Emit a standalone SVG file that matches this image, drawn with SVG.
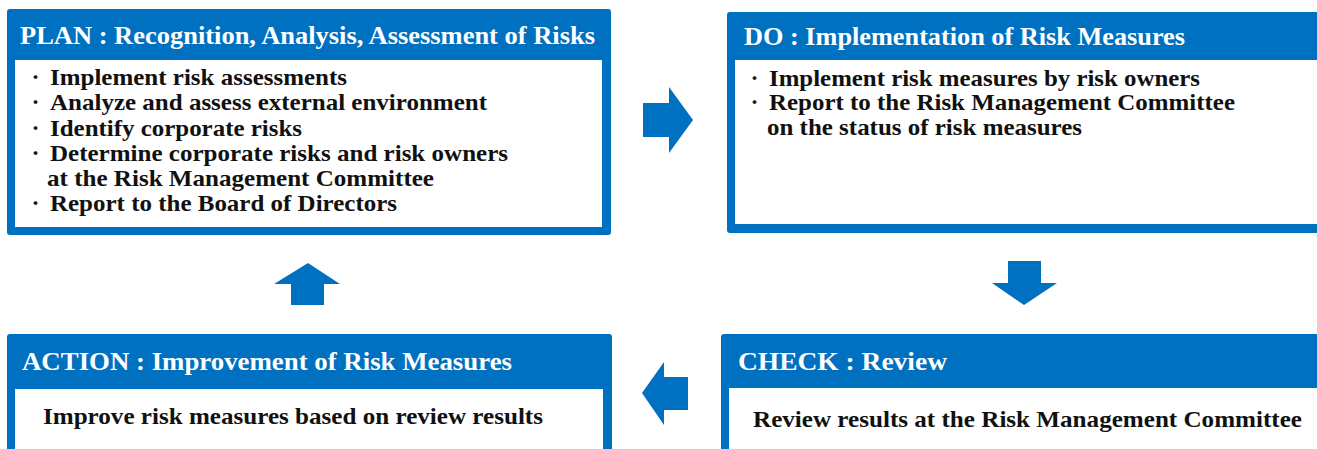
<svg xmlns="http://www.w3.org/2000/svg" width="1317" height="449" viewBox="0 0 1317 449">
<style>
.frame{fill:#0070C0}
.body{fill:#ffffff}
.hd{font-family:"Liberation Serif","Noto Sans CJK JP",serif;font-weight:bold;font-size:25px;fill:#ffffff}
.tx{font-family:"Liberation Serif","Noto Sans CJK JP",serif;font-weight:bold;font-size:23px;fill:#111111}
.bl{font-family:"Noto Sans CJK JP",sans-serif;font-weight:bold;font-size:15px;fill:#111111}
.arrow{fill:#0070C0}
</style>
<rect width="1317" height="449" fill="#ffffff"/>
<g id="plan">
<rect class="frame" x="7" y="9" width="604" height="226" rx="3"/>
<rect class="body" x="15" y="60" width="587" height="167"/>
<text class="hd" x="20" y="44" textLength="575" lengthAdjust="spacingAndGlyphs">PLAN : Recognition, Analysis, Assessment of Risks</text>
<text class="bl" x="28" y="83">・</text>
<text class="tx" x="50" y="85" textLength="297" lengthAdjust="spacingAndGlyphs">Implement risk assessments</text>
<text class="bl" x="28" y="108">・</text>
<text class="tx" x="50" y="110" textLength="437" lengthAdjust="spacingAndGlyphs">Analyze and assess external environment</text>
<text class="bl" x="28" y="134">・</text>
<text class="tx" x="50" y="136" textLength="252" lengthAdjust="spacingAndGlyphs">Identify corporate risks</text>
<text class="bl" x="28" y="159">・</text>
<text class="tx" x="50" y="161" textLength="458" lengthAdjust="spacingAndGlyphs">Determine corporate risks and risk owners</text>
<text class="tx" x="47" y="186" textLength="387" lengthAdjust="spacingAndGlyphs">at the Risk Management Committee</text>
<text class="bl" x="28" y="209">・</text>
<text class="tx" x="50" y="211" textLength="347" lengthAdjust="spacingAndGlyphs">Report to the Board of Directors</text>
</g>
<g id="do">
<rect class="frame" x="727" y="12" width="600" height="221" rx="3"/>
<rect class="body" x="735" y="60" width="600" height="164"/>
<text class="hd" x="744" y="45" textLength="441" lengthAdjust="spacingAndGlyphs">DO : Implementation of Risk Measures</text>
<text class="bl" x="747" y="84">・</text>
<text class="tx" x="769" y="86" textLength="431" lengthAdjust="spacingAndGlyphs">Implement risk measures by risk owners</text>
<text class="bl" x="747" y="108">・</text>
<text class="tx" x="769" y="110" textLength="466" lengthAdjust="spacingAndGlyphs">Report to the Risk Management Committee</text>
<text class="tx" x="767" y="135" textLength="315" lengthAdjust="spacingAndGlyphs">on the status of risk measures</text>
</g>
<g id="action">
<rect class="frame" x="7" y="334" width="605" height="130" rx="3"/>
<rect class="body" x="15" y="389" width="588" height="80"/>
<text class="hd" x="22" y="370" textLength="490" lengthAdjust="spacingAndGlyphs">ACTION : Improvement of Risk Measures</text>
<text class="tx" x="43" y="424" textLength="500" lengthAdjust="spacingAndGlyphs">Improve risk measures based on review results</text>
</g>
<g id="check">
<rect class="frame" x="721" y="334" width="610" height="130" rx="3"/>
<rect class="body" x="729" y="388" width="600" height="80"/>
<text class="hd" x="738" y="370" textLength="209" lengthAdjust="spacingAndGlyphs">CHECK : Review</text>
<text class="tx" x="753" y="427" textLength="549" lengthAdjust="spacingAndGlyphs">Review results at the Risk Management Committee</text>
</g>
<g id="connectors">
<polygon class="arrow" points="643,103 669,103 669,87 693,120 669,153 669,137 643,137"/>
<polygon class="arrow" points="1008,261 1041,261 1041,283 1057,283 1024,305 992,283 1008,283"/>
<polygon class="arrow" points="688,377 664,377 664,362 642,393 664,425 664,410 688,410"/>
<polygon class="arrow" points="308,263 340,284 324,284 324,305 291,305 291,284 274,284"/>
</g>
</svg>
